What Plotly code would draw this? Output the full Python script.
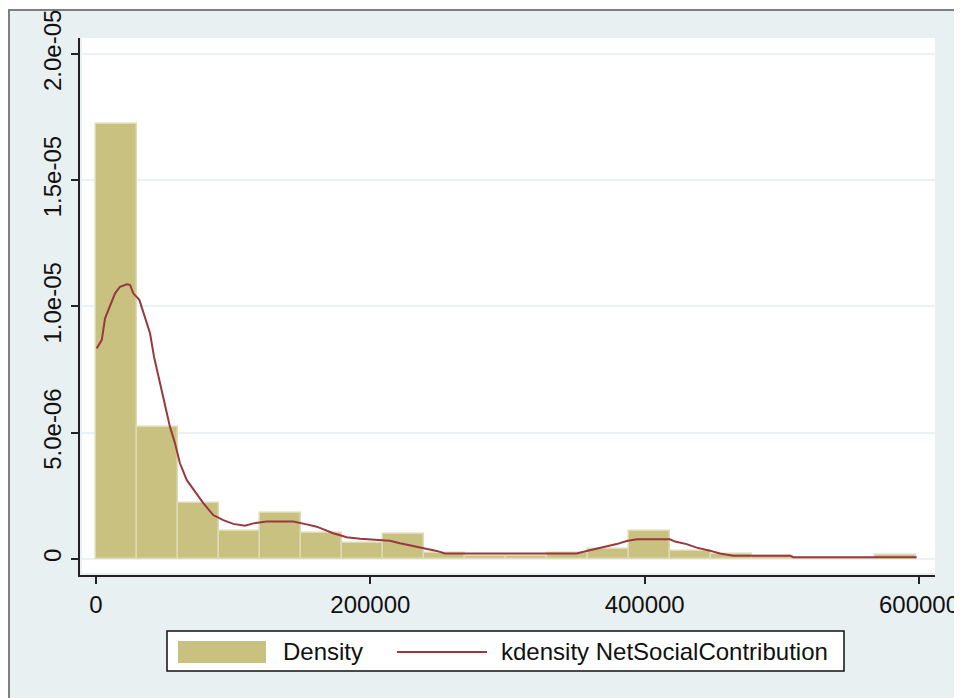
"""Histogram of NetSocialContribution with a kernel density overlay (Stata s2color look)."""

import plotly.graph_objects as go

# Histogram: 20 equal-width bins starting at 0
BIN_START = 0
BIN_WIDTH = 29900
DENSITY = [
    17.23e-6, 5.24e-6, 2.23e-6, 1.12e-6, 1.83e-6,
    1.04e-6, 0.62e-6, 0.98e-6, 0.25e-6, 0.12e-6,
    0.12e-6, 0.22e-6, 0.40e-6, 1.12e-6, 0.33e-6,
    0.20e-6, 0.12e-6, 0.0, 0.0, 0.17e-6,
]

# Kernel density estimate
KDE_X = [
    500, 4200, 6600, 10200, 13900, 17500, 22400, 24800, 27200, 31600,
    35700, 39400, 42300, 46700, 50300, 53900, 57600, 61200, 66100, 72200,
    78200, 85500, 92800, 100100, 108600, 114700, 124400, 134100, 143800, 153600,
    160900, 173000, 182800, 192500, 199700, 214300, 221600, 231300, 241100, 248400,
    254400, 292100, 350400, 357700, 365000, 372300, 379600, 386900, 394200, 418400,
    422100, 430600, 437900, 447600, 454900, 464600, 505900, 508300, 598300,
]
KDE_Y = [
    8.34e-6, 8.67e-6, 9.53e-6, 10.06e-6, 10.52e-6, 10.78e-6, 10.88e-6, 10.85e-6, 10.52e-6, 10.26e-6,
    9.60e-6, 8.94e-6, 8.01e-6, 6.96e-6, 6.03e-6, 5.24e-6, 4.58e-6, 3.79e-6, 3.13e-6, 2.67e-6,
    2.21e-6, 1.74e-6, 1.54e-6, 1.39e-6, 1.32e-6, 1.41e-6, 1.48e-6, 1.48e-6, 1.48e-6, 1.37e-6,
    1.28e-6, 1.02e-6, 0.86e-6, 0.80e-6, 0.78e-6, 0.72e-6, 0.62e-6, 0.51e-6, 0.40e-6, 0.32e-6,
    0.22e-6, 0.22e-6, 0.22e-6, 0.32e-6, 0.40e-6, 0.49e-6, 0.59e-6, 0.71e-6, 0.78e-6, 0.78e-6,
    0.69e-6, 0.59e-6, 0.45e-6, 0.33e-6, 0.22e-6, 0.13e-6, 0.13e-6, 0.07e-6, 0.07e-6,
]

X_TICKS = [0, 200000, 400000, 600000]
X_TICK_TEXT = ["0", "200000", "400000", "600000"]
Y_TICKS = [0, 5e-6, 1e-5, 1.5e-5, 2e-5]
Y_TICK_TEXT = ["0", "5.0e-06", "1.0e-05", "1.5e-05", "2.0e-05"]

LEGEND_BAR = "Density"
LEGEND_LINE = "kdensity NetSocialContribution"

# The page body adds an 8px margin, so the figure is 8px smaller than the window.
W, H = 954, 690
FONT = "Liberation Sans, Arial, sans-serif"
KHAKI = "#C9C17F"
MAROON = "#983840"
REGION = "#E8F0F2"

# plot area in window pixels
PL, PR, PT, PB = 80, 935, 38, 575


def px(x):
    """window pixel x -> paper (plot area) fraction"""
    return (x - PL) / (PR - PL)


def py(y):
    return (PB - y) / (PB - PT)


bin_centers = [BIN_START + BIN_WIDTH * (i + 0.5) for i in range(len(DENSITY))]

fig = go.Figure()
fig.add_trace(
    go.Bar(
        x=bin_centers,
        y=DENSITY,
        width=BIN_WIDTH,
        marker=dict(color=KHAKI, line=dict(color="#DEDAB4", width=1.5)),
        name=LEGEND_BAR,
        showlegend=False,
    )
)
fig.add_trace(
    go.Scatter(
        x=KDE_X,
        y=KDE_Y,
        mode="lines",
        line=dict(color=MAROON, width=2),
        name=LEGEND_LINE,
        showlegend=False,
    )
)

shapes = [
    # light graph region with grey frame, then the white plot region on top
    dict(type="rect", xref="paper", yref="paper", x0=px(9), x1=px(961), y0=py(730), y1=py(10),
         fillcolor=REGION, line=dict(color="#7F7F7F", width=2), layer="below"),
    dict(type="rect", xref="paper", yref="paper", x0=px(82), x1=px(935), y0=py(573), y1=py(38),
         fillcolor="white", line=dict(width=0), layer="below"),
    # legend
    dict(type="rect", xref="paper", yref="paper", x0=px(167), x1=px(844), y0=py(671), y1=py(631),
         fillcolor="white", line=dict(color="#111", width=1.5)),
    dict(type="rect", xref="paper", yref="paper", x0=px(178), x1=px(266), y0=py(663), y1=py(641),
         fillcolor=KHAKI, line=dict(width=0)),
    dict(type="line", xref="paper", yref="paper", x0=px(397), x1=px(487), y0=py(652), y1=py(652),
         line=dict(color=MAROON, width=2)),
]
annotations = [
    dict(text=LEGEND_BAR, xref="paper", yref="paper", x=px(281), y=py(651), xanchor="left",
         yanchor="middle", showarrow=False, font=dict(family=FONT, size=24, color="#111")),
    dict(text=LEGEND_LINE, xref="paper", yref="paper", x=px(499), y=py(651), xanchor="left",
         yanchor="middle", showarrow=False, font=dict(family=FONT, size=24, color="#111")),
]

fig.update_layout(
    width=W,
    height=H,
    paper_bgcolor="white",
    plot_bgcolor="white",
    margin=dict(l=PL - 8, r=W - (PR - 8), t=PT - 8, b=H - (PB - 8), pad=0),
    bargap=0,
    shapes=shapes,
    annotations=annotations,
    font=dict(family=FONT, color="#111"),
)
fig.update_xaxes(
    range=[-11664, 611650],
    tickvals=X_TICKS,
    ticktext=X_TICK_TEXT,
    ticks="outside",
    ticklen=7,
    tickwidth=1.5,
    tickcolor="#222",
    showline=True,
    linecolor="#222",
    linewidth=2,
    showgrid=False,
    zeroline=False,
    automargin=False,
    tickfont=dict(size=24),
)
fig.update_yaxes(
    range=[-0.634e-6, 20.63e-6],
    tickvals=Y_TICKS,
    ticktext=Y_TICK_TEXT,
    tickangle=-90,
    ticks="outside",
    ticklen=7,
    tickwidth=1.5,
    tickcolor="#222",
    showline=True,
    linecolor="#222",
    linewidth=2,
    showgrid=True,
    gridcolor="#EAF2F3",
    gridwidth=1.5,
    zeroline=False,
    automargin=False,
    tickfont=dict(size=24),
)

fig.write_html("out.html")
